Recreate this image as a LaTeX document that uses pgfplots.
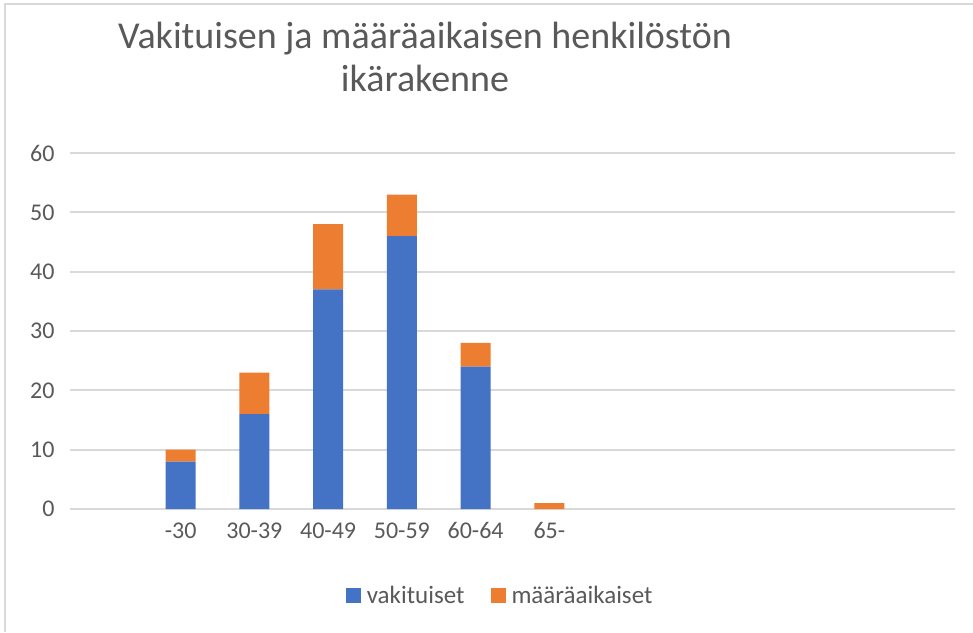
\documentclass[border=0pt]{standalone}
\usepackage{fontspec}
\setmainfont{Carlito}
\usepackage{pgfplots}
\pgfplotsset{compat=1.18}
\definecolor{cblue}{HTML}{4472C4}
\definecolor{corange}{HTML}{ED7D31}
\definecolor{ctext}{HTML}{595959}
\definecolor{cgrid}{HTML}{D9D9D9}
\begin{document}
\begin{tikzpicture}[x=1pt,y=1pt]
\path[use as bounding box] (0,0) rectangle (973,632);
\draw[cgrid, line width=2pt] (5,0) -- (5,628) -- (973,628);
\node[text=ctext, align=center, font=\fontsize{38}{43}\selectfont] at (425,575) {Vakituisen ja määräaikaisen henkilöstön\\ikärakenne};
\begin{axis}[
  at={(70pt,123pt)}, anchor=south west,
  scale only axis, width=885pt, height=356pt,
  ybar stacked, bar width=30pt,
  xmin=-0.5, xmax=11.5, ymin=0, ymax=60,
  ytick={0,10,...,60},
  xtick={1,2,3,4,5,6},
  xticklabels={-30,30-39,40-49,50-59,60-64,65-},
  axis line style={draw=none},
  major tick length=0pt,
  ymajorgrids, grid style={cgrid, line width=1.8pt},
  /pgf/number format/assume math mode=true,
  tick label style={text=ctext, font=\fontsize{24}{28}\selectfont},
  yticklabel style={xshift=-12pt},
  xticklabel style={yshift=-10pt},
  legend style={at={(0.486,-0.244)}, anchor=center, draw=none, legend columns=2,
    font=\fontsize{25}{29}\selectfont, text=ctext,
    /tikz/every odd column/.append style={column sep=4pt},
    /tikz/every even column/.append style={column sep=24pt}},
  legend image code/.code={\fill[#1] (0pt,-7.5pt) rectangle (15pt,7.5pt);},
]
\addplot[fill=cblue, draw=none] coordinates {(1,8) (2,16) (3,37) (4,46) (5,24) (6,0)};
\addlegendentry{vakituiset}
\addplot[fill=corange, draw=none] coordinates {(1,2) (2,7) (3,11) (4,7) (5,4) (6,1)};
\addlegendentry{määräaikaiset}
\end{axis}
\end{tikzpicture}
\end{document}
